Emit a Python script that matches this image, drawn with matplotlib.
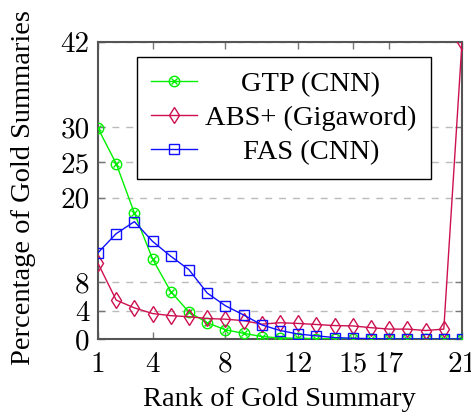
import matplotlib
matplotlib.use("Agg")
import matplotlib.pyplot as plt
from matplotlib.lines import Line2D

ranks = list(range(1, 22))
gtp = [29.8, 24.8, 17.8, 11.3, 6.7, 3.8, 2.3, 1.3, 0.8, 0.35, 0.15, 0.1, 0.05, 0.05, 0.05, 0.0, 0.0, 0.0, 0.0, 0.0, 0.0]
abs_plus = [10.7, 5.5, 4.4, 3.6, 3.3, 3.15, 2.9, 2.8, 2.6, 2.1, 2.3, 2.2, 2.05, 1.9, 1.85, 1.6, 1.4, 1.4, 1.2, 1.4, 42.0]
fas = [12.2, 14.9, 16.6, 13.8, 11.7, 9.8, 6.5, 4.7, 3.4, 2.0, 1.2, 0.7, 0.45, 0.2, 0.1, 0.05, 0.0, 0.0, 0.0, 0.0, 0.0]
xticks = [1, 4, 8, 12, 15, 17, 21]
yticks = [0, 4, 8, 20, 25, 30, 42]
labels = ["GTP (CNN)", "ABS+ (Gigaword)", "FAS (CNN)"]

GREEN = "#00f000"
RED = "#cc1050"
BLUE = "#1010ff"

fig = plt.figure(figsize=(4.71, 4.12), dpi=100)
ax = fig.add_axes([98/471, 1-339/412, (462-98)/471, (339-42)/412])

txtfont = "Liberation Serif"
numfont = "cmr10"
MS = 7.5

ax.plot(ranks, gtp, color=GREEN, lw=1.0, marker="o", ms=MS, mfc="none", mec=GREEN, mew=1.0, zorder=3)
ax.plot(ranks, gtp, color=GREEN, lw=0, marker="x", ms=MS*0.65, mec=GREEN, mew=1.0, zorder=3)
ax.plot(ranks, abs_plus, color=RED, lw=1.0, marker="d", ms=MS+0.5, mfc="none", mec=RED, mew=1.0, zorder=3)
ax.plot(ranks, fas, color=BLUE, lw=1.0, marker="s", ms=MS, mfc="none", mec=BLUE, mew=1.0, zorder=3)

ax.set_xlim(1, 21)
ax.set_ylim(0, 42)
ax.set_xticks(xticks)
ax.set_yticks(yticks)
ax.set_xticklabels([str(t) for t in xticks], fontfamily=numfont, fontsize=21)
ax.set_yticklabels([str(t) for t in yticks], fontfamily=numfont, fontsize=21)
ax.tick_params(direction="in", top=True, right=True, length=5, width=1, color="#777777", pad=6)
ax.tick_params(axis="x", pad=9)
for s in ax.spines.values():
    s.set_color("#555555")
    s.set_linewidth(1.5)
ax.yaxis.grid(True, linestyle=(0, (5, 5)), color="#bbbbbb", lw=1.0)
ax.set_axisbelow(True)

ax.set_xlabel("Rank of Gold Summary", fontfamily=txtfont, fontsize=20.5)
ax.set_ylabel("Percentage of Gold Summaries", fontfamily=txtfont, fontsize=20.5)
ax.xaxis.set_label_coords(0.4986, -0.163)
ax.yaxis.set_label_coords(-0.17, 0.51)

handles = [
    (Line2D([], [], color=GREEN, lw=1.0, marker="o", ms=MS, mfc="none", mec=GREEN),
     Line2D([], [], color=GREEN, lw=0, marker="x", ms=MS*0.65, mec=GREEN)),
    Line2D([], [], color=RED, lw=1.0, marker="d", ms=MS+0.5, mfc="none", mec=RED),
    Line2D([], [], color=BLUE, lw=1.0, marker="s", ms=MS, mfc="none", mec=BLUE),
]
leg = ax.legend(handles, labels, loc="upper left", bbox_to_anchor=(0.107, 0.949),
                prop={"family": txtfont, "size": 20.5}, frameon=True, fancybox=False,
                edgecolor="black", framealpha=1, borderpad=0.5, labelspacing=0.28,
                handlelength=1.6, handletextpad=0.3, borderaxespad=0)
leg.get_frame().set_linewidth(1.0)

fig.canvas.draw()
r = fig.canvas.get_renderer()
texts = leg.get_texts()
ws = [t.get_window_extent(r).width for t in texts]
mw = max(ws)
for t, w in zip(texts, ws):
    t.set_position(((mw - w) / 2, 0))

fig.savefig("out.png", dpi=100)
